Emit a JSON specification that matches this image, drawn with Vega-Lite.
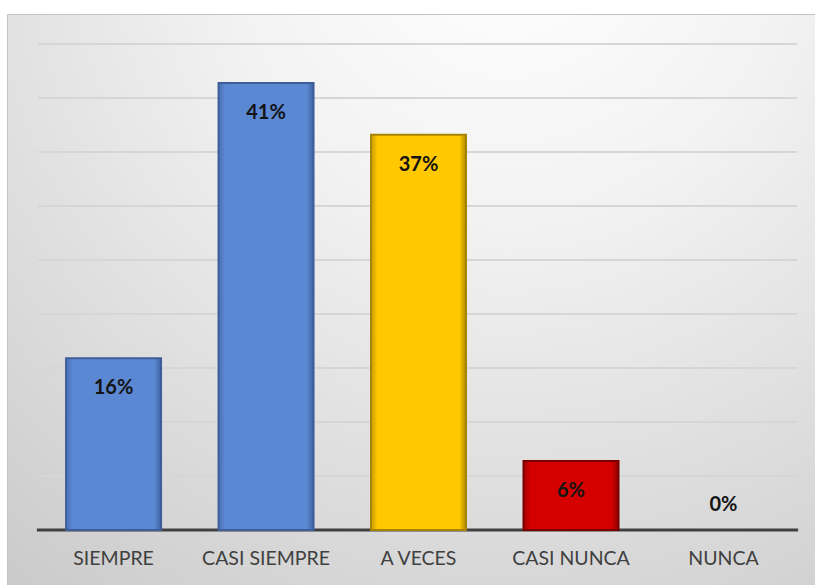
{
  "$schema": "https://vega.github.io/schema/vega-lite/v6.json",
  "width": 808,
  "height": 571,
  "autosize": {"type": "none"},
  "padding": {"left": 7, "top": 14, "right": 0, "bottom": 0},
  "background": "white",
  "config": {
    "view": {
      "stroke": "#c4c4c4",
      "strokeWidth": 1,
      "fill": {
        "gradient": "radial",
        "x1": 0.62, "y1": 0.05, "r1": 0,
        "x2": 0.62, "y2": 0.05, "r2": 1.0,
        "stops": [
          {"offset": 0, "color": "#ffffff"},
          {"offset": 0.35, "color": "#f2f2f2"},
          {"offset": 1, "color": "#cbcbcb"}
        ]
      }
    }
  },
  "datasets": {
    "grid": [
      {"v": 0.05}, {"v": 0.10}, {"v": 0.15}, {"v": 0.20}, {"v": 0.25},
      {"v": 0.30}, {"v": 0.35}, {"v": 0.40}, {"v": 0.45}
    ],
    "resp": [
      {"cat": "SIEMPRE", "value": 0.159, "label": "16%"},
      {"cat": "CASI SIEMPRE", "value": 0.414, "label": "41%"},
      {"cat": "A VECES", "value": 0.366, "label": "37%"},
      {"cat": "CASI NUNCA", "value": 0.064, "label": "6%"},
      {"cat": "NUNCA", "value": 0.0, "label": "0%"}
    ]
  },
  "resolve": {"scale": {"x": "independent"}},
  "layer": [
    {
      "layer": [
        {
          "data": {"name": "grid"},
          "mark": {"type": "rule", "color": "#d6d6d6", "strokeWidth": 2},
          "encoding": {
            "x": {"datum": 0, "type": "quantitative", "scale": {"domain": [-0.04084, 1.02372], "nice": false, "zero": false}, "axis": null},
            "x2": {"datum": 1},
            "y": {"field": "v", "type": "quantitative", "scale": {"domain": [-0.0509, 0.4778], "nice": false, "zero": false}, "axis": null}
          }
        },
        {
          "data": {"values": [{"v": 0}]},
          "mark": {"type": "rule", "color": "#404040", "strokeWidth": 3},
          "encoding": {
            "x": {"datum": -0.0015, "type": "quantitative"},
            "x2": {"datum": 1.0015},
            "y": {"field": "v", "type": "quantitative"}
          }
        }
      ]
    },
    {
      "data": {"name": "resp"},
      "encoding": {
        "x": {
          "field": "cat",
          "type": "nominal",
          "sort": null,
          "scale": {"paddingInner": 0.377, "paddingOuter": 0.338, "align": 0.573},
          "axis": {
            "title": null,
            "orient": "bottom",
            "offset": -55,
            "domain": false,
            "ticks": false,
            "labelAngle": 0,
            "labelPadding": 19,
            "labelFont": "Lato",
            "labelFontSize": 19.5,
            "labelColor": "#404040"
          }
        }
      },
      "layer": [
        {
          "transform": [{"filter": "datum.value > 0"}],
          "mark": {"type": "bar", "strokeWidth": 2},
          "encoding": {
            "y": {"field": "value", "type": "quantitative", "scale": {"domain": [-0.0509, 0.4778], "nice": false, "zero": false}},
            "y2": {"datum": 0},
            "fill": {
              "condition": [
                {"test": "datum.cat === 'A VECES'", "value": {"gradient": "linear", "x1": 0, "y1": 0, "x2": 1, "y2": 0, "stops": [{"offset": 0, "color": "#c99c00"}, {"offset": 0.07, "color": "#ffc800"}, {"offset": 0.93, "color": "#ffc800"}, {"offset": 1, "color": "#b08700"}]}},
                {"test": "datum.cat === 'CASI NUNCA'", "value": {"gradient": "linear", "x1": 0, "y1": 0, "x2": 1, "y2": 0, "stops": [{"offset": 0, "color": "#a00000"}, {"offset": 0.07, "color": "#d40000"}, {"offset": 0.93, "color": "#d40000"}, {"offset": 1, "color": "#8a0000"}]}}
              ],
              "value": {"gradient": "linear", "x1": 0, "y1": 0, "x2": 1, "y2": 0, "stops": [{"offset": 0, "color": "#4a70b3"}, {"offset": 0.07, "color": "#5b88d3"}, {"offset": 0.93, "color": "#5b88d3"}, {"offset": 1, "color": "#3f639f"}]}
            },
            "stroke": {
              "condition": [
                {"test": "datum.cat === 'A VECES'", "value": "#a88400"},
                {"test": "datum.cat === 'CASI NUNCA'", "value": "#7a0000"}
              ],
              "value": "#3d5e98"
            }
          }
        },
        {
          "transform": [{"filter": "datum.value > 0"}],
          "mark": {"type": "text", "font": "Lato", "fontWeight": "bold", "fontSize": 20, "color": "#141414", "baseline": "middle", "dy": 30},
          "encoding": {
            "y": {"field": "value", "type": "quantitative"},
            "text": {"field": "label"}
          }
        },
        {
          "transform": [{"filter": "datum.value <= 0"}],
          "mark": {"type": "text", "font": "Lato", "fontWeight": "bold", "fontSize": 20, "color": "#141414", "baseline": "middle", "dy": -25},
          "encoding": {
            "y": {"field": "value", "type": "quantitative"},
            "text": {"field": "label"}
          }
        }
      ]
    }
  ]
}
